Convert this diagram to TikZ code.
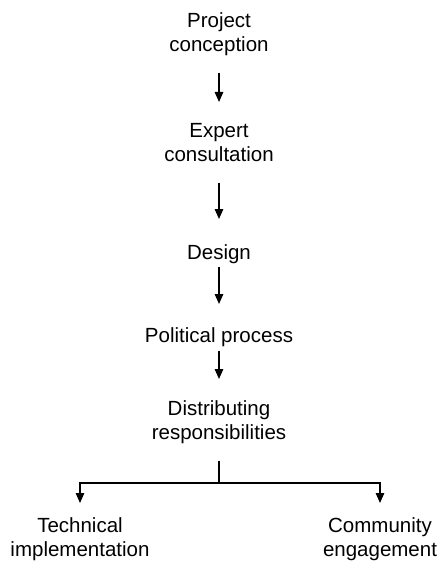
\documentclass[tikz,border=0pt]{standalone}
\usepackage{fontspec}
\setmainfont{Liberation Sans}
\usetikzlibrary{arrows.meta}
\begin{document}
\begin{tikzpicture}[x=1pt,y=-1pt,
  lbl/.style={font=\fontsize{20.5}{24}\selectfont, align=center, inner sep=0pt, anchor=north},
  ln/.style={line width=1.3pt},
  arr/.style={ln,-{Triangle[width=8.5pt,length=10pt]}}]
\useasboundingbox (0,0) rectangle (440,561);
\node[lbl] (p) at (219,12) {Project\\conception};
\node[lbl] (e) at (219,123) {Expert\\consultation};
\node[lbl] (d) at (219,244) {Design};
\node[lbl] (pp) at (219,327) {Political process};
\node[lbl] (ds) at (219,400) {Distributing\\responsibilities};
\node[lbl] (t) at (80,517) {Technical\\implementation};
\node[lbl] (c) at (380,517) {Community\\engagement};
\coordinate (fork) at (219,483);
\draw[arr, shorten <=17pt, shorten >=21pt] (p.south) -- (e.north);
\draw[arr, shorten <=21pt, shorten >=25pt] (e.south) -- (d.north);
\draw[arr, shorten <=3pt, shorten >=23pt] (d.south) -- (pp.north);
\draw[arr, shorten <=4pt, shorten >=21pt] (pp.south) -- (ds.north);
\draw[ln, shorten <=17pt] (ds.south) -- (fork);
\draw[arr, shorten >=14pt] (fork) -| (t.north);
\draw[arr, shorten >=14pt] (fork) -| (c.north);
\end{tikzpicture}
\end{document}
